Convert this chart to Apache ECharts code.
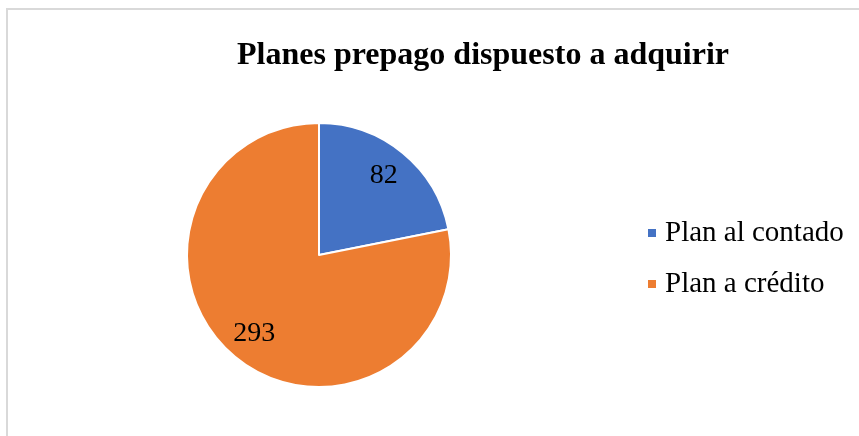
<!DOCTYPE html>
<html>
<head>
<meta charset="utf-8">
<script src="https://cdn.jsdelivr.net/npm/echarts@6/dist/echarts.min.js"></script>
<style>
  html, body { margin: 0; padding: 0; background: #ffffff; }
  #chart { width: 859px; height: 436px; }
</style>
</head>
<body>
<div id="chart"></div>
<script>
// Survey answers: which prepaid plan respondents would buy
const titleText = 'Planes prepago dispuesto a adquirir';
const categories = ['Plan al contado', 'Plan a crédito'];
const counts = [82, 293];
const colors = ['#4472C4', '#ED7D31'];

const serif = '"Liberation Serif", "Times New Roman", serif';
const pieData = categories.map((name, i) => ({ name, value: counts[i] }));

const chart = echarts.init(document.getElementById('chart'), null, { renderer: 'canvas' });
chart.setOption({
  backgroundColor: '#ffffff',
  animation: false,
  color: colors,
  title: {
    text: titleText,
    left: 478,
    textAlign: 'center',
    top: 35,
    textStyle: { fontFamily: serif, fontWeight: 'bold', fontSize: 32, color: '#000000' }
  },
  legend: {
    orient: 'vertical',
    left: 646,
    top: 218,
    padding: 0,
    icon: 'rect',
    itemWidth: 10,
    itemHeight: 10,
    itemGap: 21,
    data: categories,
    textStyle: { fontFamily: serif, fontSize: 29, color: '#000000', lineHeight: 30, padding: [0, 0, 0, 3] }
  },
  graphic: [{
    type: 'rect',
    shape: { x: 7, y: 9, width: 870, height: 450 },
    style: { fill: 'none', stroke: '#d9d9d9', lineWidth: 2 },
    silent: true,
    z: 0
  }],
  series: [
    {
      // the slices
      type: 'pie',
      center: [319, 255],
      radius: [0, 132],
      startAngle: 90,
      clockwise: true,
      label: { show: false },
      labelLine: { show: false },
      itemStyle: { borderColor: '#ffffff', borderWidth: 2 },
      data: pieData,
      z: 2
    },
    {
      // transparent ring that places the value labels at three quarters of the radius
      type: 'pie',
      center: [319, 255],
      radius: [66, 132],
      startAngle: 90,
      clockwise: true,
      silent: true,
      legendHoverLink: false,
      itemStyle: { color: 'rgba(0,0,0,0)', borderWidth: 0 },
      label: {
        show: true,
        position: 'inner',
        formatter: '{c}',
        fontFamily: serif,
        fontSize: 28,
        color: '#000000'
      },
      labelLine: { show: false },
      data: pieData,
      z: 3
    }
  ]
});
</script>
</body>
</html>
